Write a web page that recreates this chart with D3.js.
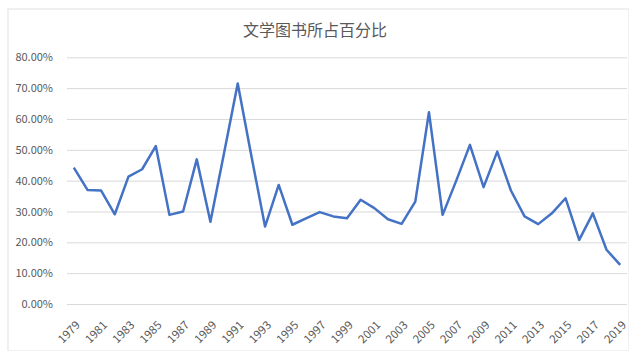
<!DOCTYPE html>
<html>
<head>
<meta charset="utf-8">
<script src="https://cdn.jsdelivr.net/npm/d3@7"></script>
<style>
  body { margin: 0; background: #fff; }
  text { font-family: "Noto Sans CJK SC", "Liberation Sans", sans-serif; }
</style>
</head>
<body>
<div id="chart"></div>
<script>
// anos e percentagem de livros de literatura
const anos = d3.range(1979, 2020);
const percentuais = [
  0.442, 0.370, 0.368, 0.291, 0.413, 0.437, 0.512, 0.289, 0.300, 0.469,
  0.267, 0.490, 0.715, 0.480, 0.251, 0.386, 0.257, 0.278, 0.298, 0.284,
  0.278, 0.338, 0.311, 0.275, 0.260, 0.332, 0.622, 0.289, 0.400, 0.516,
  0.379, 0.494, 0.368, 0.284, 0.259, 0.294, 0.343, 0.208, 0.294, 0.176,
  0.127
];
const ticksY = [0, 0.1, 0.2, 0.3, 0.4, 0.5, 0.6, 0.7, 0.8];
const rotulosX = anos.filter((a, i) => i % 2 === 0);
const titulo = "文学图书所占百分比";

const largura = 629, altura = 351;
const margem = { top: 57.3, right: 2, bottom: 47, left: 67 };

const svg = d3.select("#chart").append("svg")
  .attr("width", largura)
  .attr("height", altura);

// moldura leve do gráfico
svg.append("rect")
  .attr("x", 8).attr("y", 9)
  .attr("width", largura - 8).attr("height", altura - 9)
  .attr("fill", "#fff")
  .attr("stroke", "#e2e2e2");

const escalaX = d3.scaleBand()
  .domain(anos)
  .range([margem.left, largura - margem.right])
  .padding(0);

const escalaY = d3.scaleLinear()
  .domain([0, 0.8])
  .range([altura - margem.bottom, margem.top]);

// grade horizontal + rótulos do eixo Y
const eixoY = svg.append("g")
  .attr("transform", `translate(${margem.left},0)`)
  .call(d3.axisLeft(escalaY)
    .tickValues(ticksY)
    .tickFormat(d3.format(".2%"))
    .tickSize(-(largura - margem.left - margem.right))
    .tickPadding(14));
eixoY.select(".domain").remove();
eixoY.selectAll(".tick line").attr("stroke", "#d9d9d9").attr("stroke-width", 1);
eixoY.selectAll(".tick text")
  .attr("fill", "#595959")
  .style("font-size", "11px");

// eixo X com anos alternados, girados
const eixoX = svg.append("g")
  .attr("transform", `translate(0,${escalaY(0)})`)
  .call(d3.axisBottom(escalaX).tickValues(rotulosX).tickSize(0));
eixoX.select(".domain").remove();
eixoX.selectAll(".tick text")
  .attr("fill", "#595959")
  .style("font-size", "11.5px")
  .attr("text-anchor", "end")
  .attr("x", 0)
  .attr("y", 0)
  .attr("dy", "0.35em")
  .attr("transform", "translate(4,19) rotate(-45)");

// linha
const linha = d3.line()
  .x((d, i) => escalaX(anos[i]) + escalaX.bandwidth() / 2)
  .y(d => escalaY(d));

svg.append("path")
  .datum(percentuais)
  .attr("fill", "none")
  .attr("stroke", "#4472c4")
  .attr("stroke-width", 2.5)
  .attr("stroke-linejoin", "round")
  .attr("d", linha);

// título
svg.append("text")
  .attr("x", 315)
  .attr("y", 36)
  .attr("text-anchor", "middle")
  .attr("fill", "#595959")
  .style("font-size", "16px")
  .text(titulo);
</script>
</body>
</html>
